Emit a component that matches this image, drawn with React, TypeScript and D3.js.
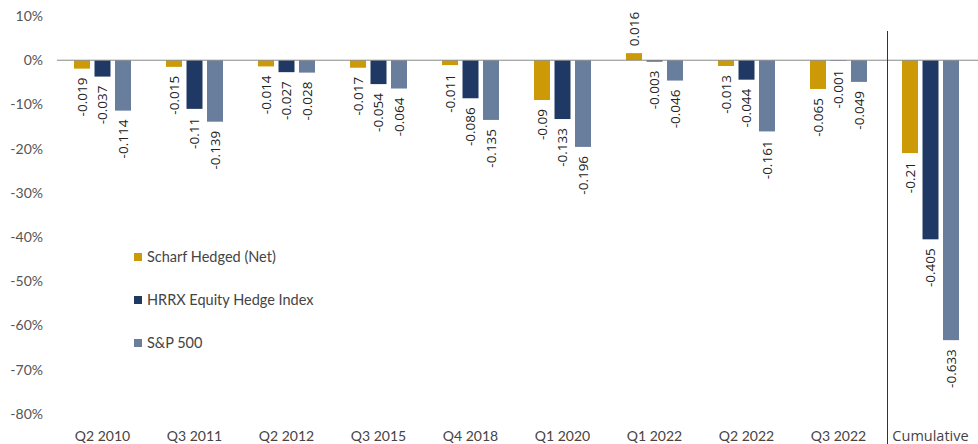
import React from "react";
import * as d3 from "d3";

const categories = ["Q2 2010", "Q3 2011", "Q2 2012", "Q3 2015", "Q4 2018", "Q1 2020", "Q1 2022", "Q2 2022", "Q3 2022", "Cumulative"];
const seriesNames = ["Scharf Hedged (Net)", "HRRX Equity Hedge Index", "S&P 500"];
const scharf = [-0.019, -0.015, -0.014, -0.017, -0.011, -0.09, 0.016, -0.013, -0.065, -0.21];
const hrrx = [-0.037, -0.11, -0.027, -0.054, -0.086, -0.133, -0.003, -0.044, -0.001, -0.405];
const sp500 = [-0.114, -0.139, -0.028, -0.064, -0.135, -0.196, -0.046, -0.161, -0.049, -0.633];
const yTicks = [0.1, 0, -0.1, -0.2, -0.3, -0.4, -0.5, -0.6, -0.7, -0.8];
const colors = ["#CC9A06", "#203864", "#687E9C"];

const W = 978;
const H = 444;

export default function App() {
  const seriesValues = [scharf, hrrx, sp500];
  const x0 = d3.scaleBand<string>().domain(categories).range([56.5, 976.5]).padding(0);
  const x1 = d3.scaleBand<string>().domain(seriesNames).range([0, 57]).paddingInner(0.22).paddingOuter(0);
  const y = d3.scaleLinear().domain([-0.8, 0.1]).range([414, 16]);
  const groupOffset = (x0.bandwidth() - 57) / 2;
  const axisFont = "Lato, 'Open Sans', sans-serif";
  const labelFont = "'Open Sans', sans-serif";
  const dividerX = x0("Cumulative")! + 3;
  const fmt = (t: number) => d3.format(".0%")(t).replace("\u2212", "-");

  return (
    <svg width={W} height={H} style={{ position: "absolute", left: 0, top: 0, background: "#fff" }}>
      {yTicks.map((t) => (
        <text key={t} x={43} y={y(t)} dy="0.35em" textAnchor="end" fontFamily={axisFont} fontSize={14} fill="#555">
          {fmt(t)}
        </text>
      ))}
      {categories.map((c, ci) => (
        <g key={c} transform={`translate(${x0(c)! + groupOffset},0)`}>
          {seriesNames.map((s, si) => {
            const v = seriesValues[si][ci];
            const bx = x1(s)!;
            const bw = x1.bandwidth();
            const top = y(Math.max(0, v));
            const h = Math.abs(y(v) - y(0));
            const cx = bx + bw / 2;
            const neg = v < 0;
            const ly = neg ? y(v) + 9 : y(v) - 7;
            return (
              <g key={s}>
                <rect x={bx} y={top} width={bw} height={h} fill={colors[si]} />
                <text
                  transform={`translate(${cx},${ly}) rotate(-90)`}
                  dy="0.35em"
                  textAnchor={neg ? "end" : "start"}
                  fontFamily={labelFont}
                  fontSize={13.5}
                  fill="#222"
                >
                  {String(v)}
                </text>
              </g>
            );
          })}
          <text
            x={28.5}
            y={436}
            dy="0.35em"
            textAnchor="middle"
            fontFamily={c === "Cumulative" ? labelFont : axisFont}
            fontSize={c === "Cumulative" ? 14.5 : 14}
            fill="#444"
          >
            {c}
          </text>
        </g>
      ))}
      <line x1={57} x2={978} y1={y(0)} y2={y(0)} stroke="#888" strokeWidth={1} />
      <line x1={dividerX} x2={dividerX} y1={31} y2={444} stroke="#333" strokeWidth={1} />
      {seriesNames.map((s, i) => (
        <g key={s} transform={`translate(134,${257 + i * 43})`}>
          <rect x={0} y={-4} width={8} height={8} fill={colors[i]} />
          <text x={13} y={0} dy="0.35em" fontFamily={axisFont} fontSize={14.5} fill="#444">
            {s}
          </text>
        </g>
      ))}
    </svg>
  );
}
